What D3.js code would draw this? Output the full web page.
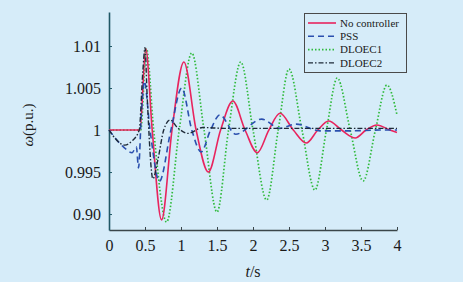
<!DOCTYPE html>
<html>
<head>
<meta charset="utf-8">
<script src="https://cdn.jsdelivr.net/npm/d3@7"></script>
<style>
  html, body { margin: 0; padding: 0; background: #d6ecf9; }
  svg { display: block; }
  svg text { font-family: "Liberation Serif", "DejaVu Serif", serif; }
</style>
</head>
<body>
<div id="root"></div>
<script>
// data: [t (s), omega (p.u.)]
const seriesNames = ["No controller", "PSS", "DLOEC1", "DLOEC2"];

const noController = [
  [0, 1], [0.43, 1], [0.51, 1.0097], [0.6, 1.0], [0.73, 0.9893], [0.875, 1.0],
  [1.04, 1.0081], [1.21, 1.0], [1.38, 0.995], [1.55, 1.0], [1.72, 1.00345],
  [1.89, 1.0], [2.06, 0.9973], [2.22, 1.0], [2.375, 1.002], [2.56, 1.0],
  [2.74, 0.99845], [2.9, 1.0], [3.05, 1.00107], [3.23, 1.0], [3.42, 0.99905],
  [3.57, 1.0], [3.72, 1.0006], [3.9, 1.0], [4, 0.9997]
];

const pss = [
  [0, 1], [0.2, 0.998], [0.32, 0.9973], [0.38, 0.998], [0.41, 0.9955],
  [0.45, 1.002], [0.49, 1.0058], [0.57, 1.0], [0.7, 0.9939], [0.86, 1.0],
  [1.01, 1.005], [1.15, 1.0], [1.28, 0.9974], [1.41, 1.0], [1.54, 1.0018],
  [1.76, 0.9995], [2.12, 1.0013], [2.37, 1.0002], [2.6, 1.0007], [2.93, 0.9999],
  [3.35, 0.9999], [3.76, 1.0], [4, 1.0]
];

const dloec1 = [
  [0, 1], [0.44, 1], [0.52, 1.0097], [0.62, 1.0], [0.8, 0.98905], [0.975, 1.0],
  [1.15, 1.00917], [1.32, 1.0], [1.5, 0.99024], [1.66, 1.0], [1.83, 1.0081],
  [2.0, 1.0], [2.19, 0.99167], [2.35, 1.0], [2.5, 1.00726], [2.68, 1.0],
  [2.86, 0.99286], [3.02, 1.0], [3.17, 1.00619], [3.35, 1.0], [3.53, 0.99393],
  [3.7, 1.0], [3.86, 1.00536], [4, 1.0018]
];

const dloec2 = [
  [0, 1], [0.22, 0.9982], [0.32, 0.9987], [0.42, 1.0], [0.47, 1.007],
  [0.5, 1.0098], [0.53, 1.004], [0.61, 0.9942], [0.68, 0.9965], [0.76, 1.0],
  [0.85, 1.0012], [0.95, 1.0003], [1.1, 0.9996], [1.3, 1.0003], [1.6, 1.0002],
  [2, 1.0002], [2.5, 1.0002], [3, 1.0002], [3.5, 1.0002], [4, 1.0002]
];

const xTicks = [0, 0.5, 1, 1.5, 2, 2.5, 3, 3.5, 4];
const xTickLabels = ["0", "0.5", "1", "1.5", "2", "2.5", "3", "3.5", "4"];
const yTicks = [0.99, 0.995, 1, 1.005, 1.01];
const yTickLabels = ["0.90", "0.995", "1", "1.005", "1.01"];

// DIMENSIONS
const W = 463, H = 282;
const plotLeft = 109, plotRight = 397, plotTop = 12, plotBottom = 230;
const serif = '"Liberation Serif", "DejaVu Serif", serif';

const svg = d3.select('#root').append('svg')
  .attr('width', W).attr('height', H)
  .style('background-color', '#d6ecf9');

const x = d3.scaleLinear().domain([0, 4]).range([plotLeft, plotRight]);
const y = d3.scaleLinear().domain([0.9881, 1.01405]).range([plotBottom, plotTop]);

// axes
const xAxis = svg.append('g')
  .attr('transform', `translate(0,${plotBottom})`)
  .call(d3.axisBottom(x).tickValues(xTicks)
    .tickFormat((d, i) => xTickLabels[i])
    .tickSizeInner(-3).tickSizeOuter(0).tickPadding(10))
  .attr('font-family', serif).attr('font-size', 16);
xAxis.select('.domain').attr('stroke', '#3a4549').attr('stroke-width', 1.6);
xAxis.selectAll('.tick line').attr('stroke', '#3a4549');
xAxis.selectAll('.tick text').attr('fill', '#1a1a1a');

const yAxis = svg.append('g')
  .attr('transform', `translate(${plotLeft},0)`)
  .call(d3.axisLeft(y).tickValues(yTicks)
    .tickFormat((d, i) => yTickLabels[i])
    .tickSizeInner(-3).tickSizeOuter(0).tickPadding(8))
  .attr('font-family', serif).attr('font-size', 16);
yAxis.select('.domain').attr('stroke', '#1f5866').attr('stroke-width', 1.6);
yAxis.selectAll('.tick line').attr('stroke', '#1f5866');
yAxis.selectAll('.tick text').attr('fill', '#1a1a1a');

// lines
const line = d3.line()
  .x(d => x(d[0]))
  .y(d => y(d[1]))
  .curve(d3.curveMonotoneX);

const styles = [
  { data: noController, color: '#e8245e', width: 1.6, dash: null },
  { data: pss, color: '#2a4fae', width: 1.6, dash: '6,4' },
  { data: dloec1, color: '#2fba3c', width: 1.7, dash: '1.5,2' },
  { data: dloec2, color: '#1e2a38', width: 1.4, dash: '5,2,1.5,2' }
];

// draw order: green first so red/blue show on top
[2, 0, 1, 3].forEach(i => {
  const s = styles[i];
  svg.append('path')
    .datum(s.data)
    .attr('fill', 'none')
    .attr('stroke', s.color)
    .attr('stroke-width', s.width)
    .attr('stroke-dasharray', s.dash)
    .attr('d', line);
});

// axis titles
const yl = svg.append('text')
  .attr('transform', 'translate(33,125) rotate(-90)')
  .attr('text-anchor', 'middle')
  .style('font-size', '15px')
  .attr('fill', '#1a1a1a');
yl.append('tspan').style('font-style', 'italic').text('ω');
yl.append('tspan').text('(p.u.)');

const xl = svg.append('text')
  .attr('x', 253).attr('y', 277)
  .attr('text-anchor', 'middle')
  .style('font-size', '16px')
  .attr('fill', '#1a1a1a');
xl.append('tspan').style('font-style', 'italic').text('t');
xl.append('tspan').text('/s');

// legend
const lg = svg.append('g');
lg.append('rect')
  .attr('x', 304.5).attr('y', 13.5)
  .attr('width', 102).attr('height', 59)
  .attr('fill', '#d6ecf9')
  .attr('stroke', '#4a4a4a').attr('stroke-width', 1);

seriesNames.forEach((name, i) => {
  const s = styles[i];
  const yy = 23 + i * 13.3;
  lg.append('line')
    .attr('x1', 308).attr('x2', 336)
    .attr('y1', yy).attr('y2', yy)
    .attr('stroke', s.color)
    .attr('stroke-width', s.width)
    .attr('stroke-dasharray', s.dash);
  lg.append('text')
    .attr('x', 340).attr('y', yy)
    .attr('dy', '0.35em')
    .style('font-size', '11px')
    .attr('fill', '#1a1a1a')
    .text(name);
});
</script>
</body>
</html>
